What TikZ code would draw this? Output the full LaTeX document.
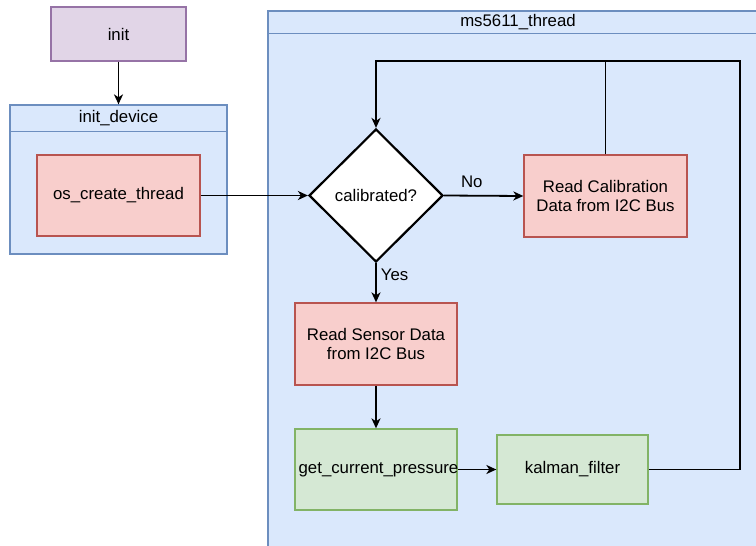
\documentclass[tikz,border=0pt]{standalone}
\usepackage{fontspec}
\setmainfont{Liberation Sans}
\usetikzlibrary{arrows.meta,shapes.geometric}

\definecolor{purpleFill}{HTML}{E1D5E7}
\definecolor{purpleLine}{HTML}{9673A6}
\definecolor{blueFill}{HTML}{DAE8FC}
\definecolor{blueLine}{HTML}{6C8EBF}
\definecolor{redFill}{HTML}{F8CECC}
\definecolor{redLine}{HTML}{B85450}
\definecolor{greenFill}{HTML}{D5E8D4}
\definecolor{greenLine}{HTML}{82B366}

\tikzset{
  boxbase/.style={rectangle, draw, line width=1.3pt, inner sep=0pt, align=center},
  purplebox/.style={boxbase, fill=purpleFill, draw=purpleLine},
  lane/.style={boxbase, fill=blueFill, draw=blueLine},
  redbox/.style={boxbase, fill=redFill, draw=redLine},
  greenbox/.style={boxbase, fill=greenFill, draw=greenLine},
  decision/.style={diamond, draw=black, fill=white, line width=2.2pt, inner sep=0pt, align=center},
  wire/.style={draw=black, line width=1.8pt},
  flow/.style={wire, -{Stealth[length=10pt,width=9pt,inset=3pt]}},
  edgelabel/.style={inner sep=0pt}
}

\begin{document}
\begin{tikzpicture}[x=1pt, y=-1pt, font=\fontsize{16.8}{19.5}\selectfont]
  \useasboundingbox (0,0) rectangle (756,546);
  \fill[white] (0,0) rectangle (756,546);
  \clip (0,0) rectangle (756,546);

  % entry point
  \node[purplebox, minimum width=135pt, minimum height=54pt] (init) at (118.5,34) {init};

  % init_device lane
  \node[lane, minimum width=217pt, minimum height=149pt] (initdev) at (118.5,179.5) {};
  \draw[blueLine, line width=1.3pt] ([yshift=-27pt]initdev.north west) -- ([yshift=-27pt]initdev.north east);
  \node (initdevtitle) at (118.5,118.5) {init\_device};
  \node[redbox, minimum width=163pt, minimum height=81pt] (create) at (118.5,195.5) {os\_create\_thread};

  % ms5611_thread lane
  \node[lane, minimum width=500pt, minimum height=549pt] (thread) at (518,285.5) {};
  \draw[blueLine, line width=1.3pt] ([yshift=-23pt]thread.north west) -- ([yshift=-23pt]thread.north east);
  \node (threadtitle) at (518,22.5) {ms5611\_thread};

  \node[decision, minimum width=134pt, minimum height=133pt] (calib) at (376,195.5) {calibrated?};
  \node[redbox, minimum width=163pt, minimum height=82pt] (readcal) at (605.5,196) {Read Calibration\\Data from I2C Bus};
  \node[redbox, minimum width=162pt, minimum height=82pt] (readsens) at (376,344) {Read Sensor Data\\from I2C Bus};
  \node[greenbox, minimum width=162pt, minimum height=81pt] (pressure) at (376,469.5) {};
  \node (pressuretext) at (378.5,469.5) {get\_current\_pressure};
  \node[greenbox, minimum width=151pt, minimum height=69pt] (kalman) at (572.5,469.5) {kalman\_filter};

  % loop-back corners
  \coordinate (loopL) at (376,61);
  \coordinate (loopR) at (740,61);

  % connectors
  \draw[flow] (init) -- (initdev);
  \draw[flow] (create.east) -- (calib.west);
  \draw[flow] (calib.east) -- node[edgelabel, above=7pt, pos=0.35] (nolabel) {No} (readcal.west);
  \draw[flow] (calib.south) -- node[edgelabel, right=4pt, pos=0.3] (yeslabel) {Yes} (readsens.north);
  \draw[flow] (readsens) -- (pressure);
  \draw[flow] (pressure.east) -- (kalman.west);
  \draw[wire] (kalman.east) -| (loopR) -- (loopL);
  \draw[flow] (readcal.north) |- (loopL) -- (calib.north);
\end{tikzpicture}
\end{document}
